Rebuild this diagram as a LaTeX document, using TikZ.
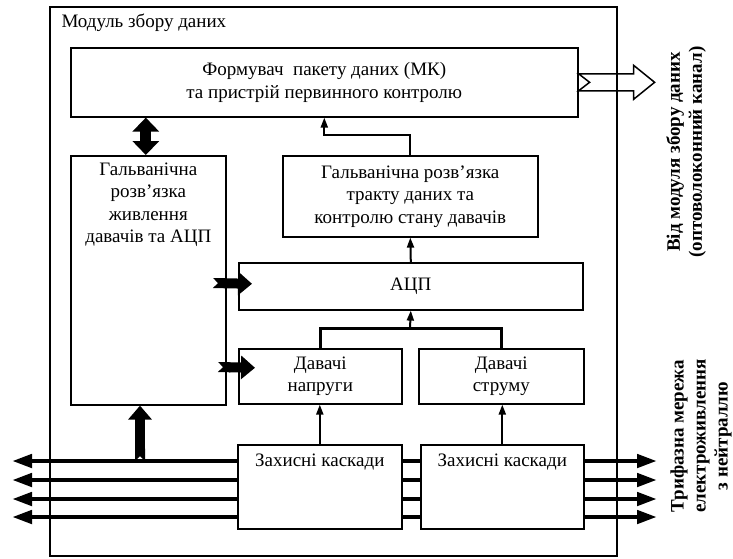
\documentclass[tikz,border=0pt]{standalone}
\usepackage{fontspec}
\setmainfont{Liberation Serif}
\usetikzlibrary{arrows.meta,positioning}
\tikzset{
  blok/.style={draw, line width=1.6pt, fill=white, anchor=north west, inner sep=0pt, align=center},
  sig/.style={line width=2pt, -{Triangle[length=10pt,width=7pt]}},
  bus/.style={line width=4.5pt, {Triangle[length=20pt,width=13pt]}-{Triangle[length=20pt,width=13pt]}},
  fat/.style={line width=10pt, {Triangle Cap[reversed]}-{Triangle[length=14pt,width=23pt]}},
  fatboth/.style={line width=11pt, {Triangle[length=14pt,width=26pt]}-{Triangle[length=14pt,width=26pt]}},
  side/.style={rotate=90, align=center, font=\bfseries\fontsize{19}{22}\selectfont},
}
\begin{document}
\begin{tikzpicture}[x=1pt,y=-1pt,font=\fontsize{19}{22.5}\selectfont]
\useasboundingbox (0,0) rectangle (733,558);
% module frame
\draw[line width=1.6pt] (50,7) rectangle (617,556);
\node[anchor=west] (modtitle) at (58,23) {Модуль збору даних};

% three-phase lines
\coordinate (L1) at (12,461); \coordinate (R1) at (657,461);
\coordinate (L2) at (12,480); \coordinate (R2) at (657,480);
\coordinate (L3) at (12,499); \coordinate (R3) at (657,499);
\coordinate (L4) at (12,517); \coordinate (R4) at (657,517);
\draw[bus] (L1) -- (R1);
\draw[bus] (L2) -- (R2);
\draw[bus] (L3) -- (R3);
\draw[bus] (L4) -- (R4);

% blocks
\node[blok, minimum width=507pt, minimum height=69pt] (fmk) at (70,47) {Формувач\ \ пакету даних (МК)\\та пристрій первинного контролю};
\node[blok, minimum width=155pt, minimum height=249pt] (galvL) at (70,155) {};
\node[below=4pt of galvL.north, align=center] (galvLtxt) {Гальванічна\\розв’язка\\живлення\\давачів та АЦП};
\node[blok, minimum width=255pt, minimum height=81pt] (galvR) at (282,155) {Гальванічна розв’язка\\тракту даних та\\контролю стану давачів};
\node[blok, minimum width=344pt, minimum height=47pt] (adc) at (238,262) {АЦП};
\node[blok, minimum width=163pt, minimum height=55pt] (sensU) at (238,348) {Давачі\\напруги};
\node[blok, minimum width=165pt, minimum height=55pt] (sensI) at (418,348) {Давачі\\струму};
\node[blok, minimum width=164pt, minimum height=84pt] (protA) at (237,444) {};
\node[below=6pt of protA.north] (protAtxt) {Захисні каскади};
\node[blok, minimum width=163pt, minimum height=84pt] (protB) at (420,444) {};
\node[below=6pt of protB.north] (protBtxt) {Захисні каскади};

% signal paths
\draw[sig] (galvR.north) -- ++(0,-20) -| (fmk.south);
\draw[sig] (adc.north) -- (galvR.south);
\coordinate (join) at (410,328);
\draw[line width=3pt] (sensU.north) |- (join) -| (sensI.north);
\draw[sig] (join) -- (adc.south);
\draw[sig] (protA.north) -- (protA.north |- sensU.south);
\draw[sig] (protB.north) -- (protB.north |- sensI.south);

% power paths
\draw[fatboth] ([xshift=-2.5pt]galvL.north) -- ([xshift=-2.5pt]galvL.north |- fmk.south);
\coordinate (tap) at (140,461);
\draw[fat] (tap) -- (tap |- galvL.south);
\coordinate (pwrA) at (213,283);
\draw[fat] (pwrA) -- ([xshift=14pt,yshift=2.5pt]adc.west);
\coordinate (pwrU) at (218,367);
\draw[fat] (pwrU) -- ([xshift=17pt,yshift=8.5pt]sensU.west);

% output channel
\draw[line width=1.5pt] (fmk.east) ++(0,-8.5) -- ++(55,0) -- ++(0,-8.5) -- ++(21,17) -- ++(-21,17) -- ++(0,-8.5) -- ++(-55,0) -- ++(11,-8.5) -- cycle;

\node[side] (outtxt) at (686,152) {Від модуля збору даних\\(оптоволоконний канал)};
\node[side] (nettxt) at (701,436) {Трифазна мережа\\електроживлення\\з нейтраллю};
\end{tikzpicture}
\end{document}
